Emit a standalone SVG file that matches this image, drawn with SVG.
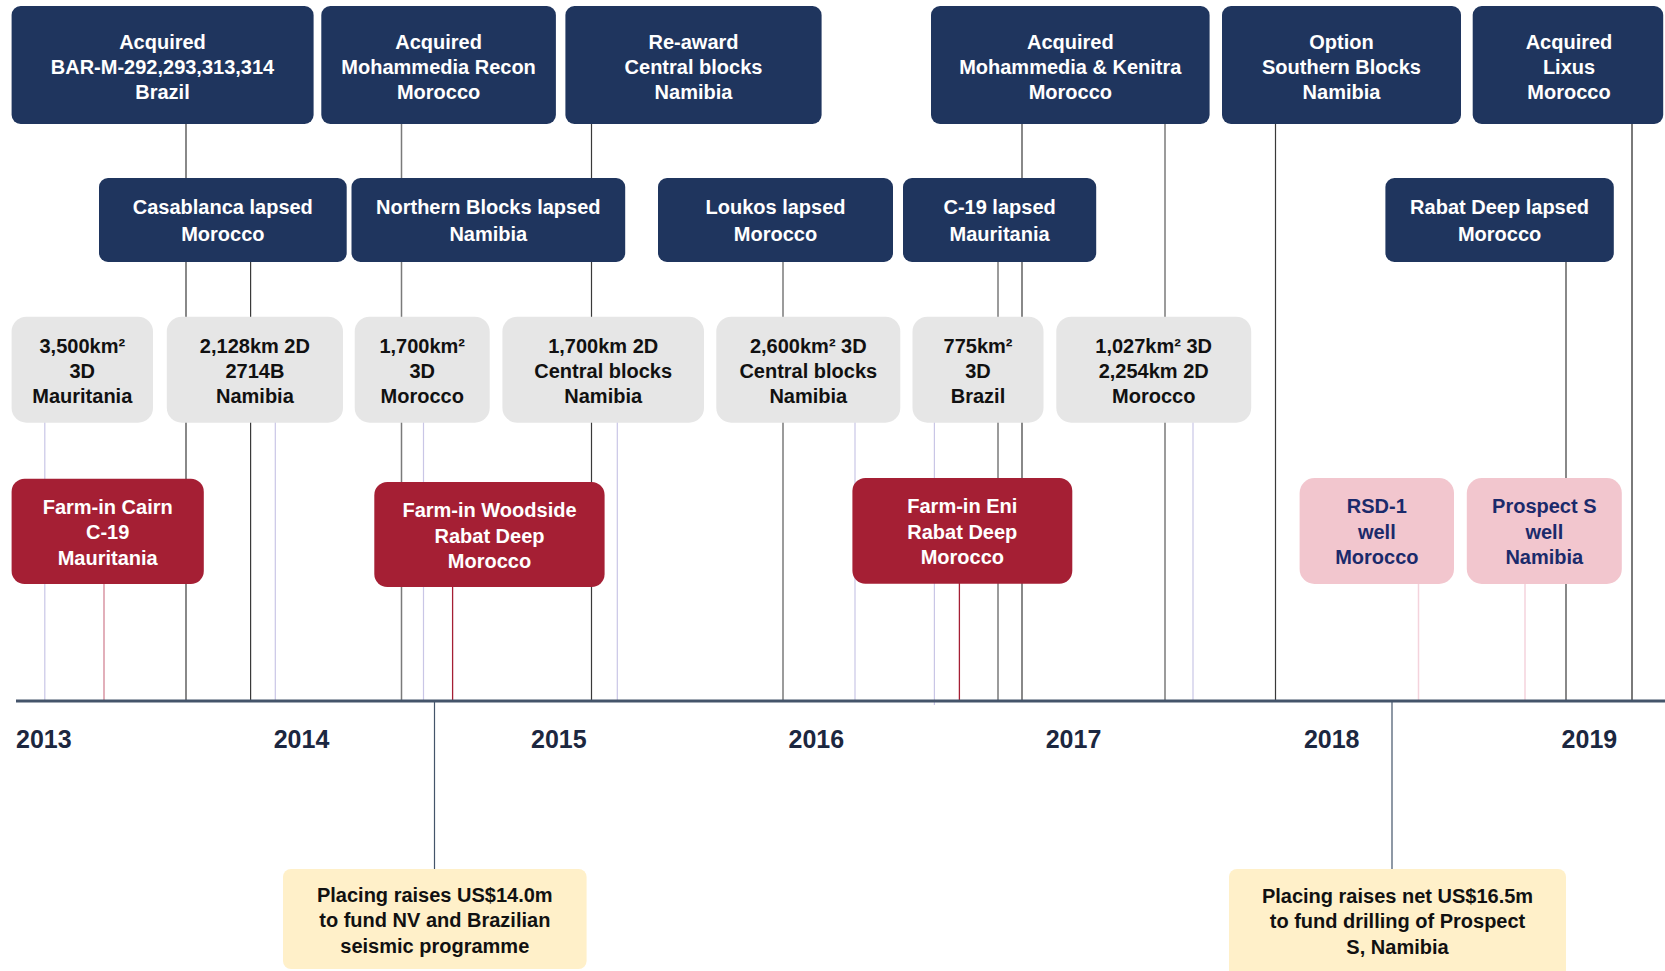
<svg xmlns="http://www.w3.org/2000/svg" width="1665" height="971" viewBox="0 0 1665 971">
<style>
text{font-family:"Liberation Sans",Arial,sans-serif;font-weight:bold;font-size:20px;text-anchor:middle}
.navy{fill:#1f355e}
.gray{fill:#e6e6e6}
.red{fill:#a51f34}
.pink{fill:#f2c6ce}
.yel{fill:#fff0c9}
.tw{fill:#ffffff}
.tb{fill:#111111}
.tp{fill:#1b2a6b}
.yr{font-size:25px;fill:#1c2740;text-anchor:start}
.ld{stroke:#3a3a3a;stroke-width:1.2}
.lg{stroke:#7a7a7a;stroke-width:1.5}
.lv{stroke:#c9c6e6;stroke-width:1.2}
.lr{stroke:#a51f34;stroke-width:1.3}
.lrl{stroke:#cf7b8c;stroke-width:1.2}
.lp{stroke:#f4d3dc;stroke-width:1.5}
.ls{stroke:#44546a;stroke-width:1.2}
</style>
<rect width="1665" height="971" fill="#ffffff"/>
<g id="connectors" fill="none">
<line class="ld" x1="186" y1="124" x2="186" y2="700"/>
<line class="lg" x1="401.5" y1="124" x2="401.5" y2="700"/>
<line class="ld" x1="591.5" y1="124" x2="591.5" y2="700"/>
<line class="ld" x1="1022" y1="124" x2="1022" y2="700"/>
<line class="lg" x1="1165" y1="124" x2="1165" y2="700"/>
<line class="ld" x1="1275.5" y1="124" x2="1275.5" y2="700"/>
<line class="lg" x1="1632" y1="124" x2="1632" y2="700" style="stroke-width:2"/>
<line class="ld" x1="250.6" y1="262" x2="250.6" y2="700"/>
<line class="lg" x1="783" y1="262" x2="783" y2="700"/>
<line class="lg" x1="998" y1="262" x2="998" y2="700"/>
<line class="ld" x1="1566" y1="262" x2="1566" y2="700"/>
<line class="lv" x1="44.8" y1="422" x2="44.8" y2="700"/>
<line class="lv" x1="275.3" y1="422" x2="275.3" y2="700"/>
<line class="lv" x1="423.5" y1="422" x2="423.5" y2="700"/>
<line class="lv" x1="617.3" y1="422" x2="617.3" y2="700"/>
<line class="lv" x1="855" y1="422" x2="855" y2="700"/>
<line class="lv" x1="934.4" y1="422" x2="934.4" y2="705"/>
<line class="lv" x1="1193" y1="422" x2="1193" y2="700"/>
<line class="lrl" x1="104" y1="583" x2="104" y2="700"/>
<line class="lr" x1="452.6" y1="586" x2="452.6" y2="700"/>
<line class="lr" x1="959.4" y1="583" x2="959.4" y2="700"/>
<line class="lp" x1="1418.5" y1="583" x2="1418.5" y2="700"/>
<line class="lp" x1="1525" y1="583" x2="1525" y2="700"/>
<line class="ls" x1="434.5" y1="701" x2="434.5" y2="869"/>
<line class="ls" x1="1392" y1="701" x2="1392" y2="869"/>
<line x1="16" y1="701" x2="1665" y2="701" stroke="#44546a" stroke-width="3"/>
</g>
<g id="n1"><rect class="navy" x="11.6" y="6" width="302" height="118" rx="9"/><text class="tw" x="162.5" y="48.5">Acquired</text><text class="tw" x="162.5" y="73.5">BAR-M-292,293,313,314</text><text class="tw" x="162.5" y="98.5">Brazil</text></g>
<g id="n2"><rect class="navy" x="321.3" y="6" width="234.6" height="118" rx="9"/><text class="tw" x="438.6" y="48.5">Acquired</text><text class="tw" x="438.6" y="73.5">Mohammedia Recon</text><text class="tw" x="438.6" y="98.5">Morocco</text></g>
<g id="n3"><rect class="navy" x="565.4" y="6" width="256.2" height="118" rx="9"/><text class="tw" x="693.5" y="48.5">Re-award</text><text class="tw" x="693.5" y="73.5">Central blocks</text><text class="tw" x="693.5" y="98.5">Namibia</text></g>
<g id="n4"><rect class="navy" x="931" y="6" width="278.6" height="118" rx="9"/><text class="tw" x="1070.3" y="48.5">Acquired</text><text class="tw" x="1070.3" y="73.5">Mohammedia &amp; Kenitra</text><text class="tw" x="1070.3" y="98.5">Morocco</text></g>
<g id="n5"><rect class="navy" x="1222" y="6" width="239" height="118" rx="9"/><text class="tw" x="1341.5" y="48.5">Option</text><text class="tw" x="1341.5" y="73.5">Southern Blocks</text><text class="tw" x="1341.5" y="98.5">Namibia</text></g>
<g id="n6"><rect class="navy" x="1472.7" y="6" width="190.5" height="118" rx="9"/><text class="tw" x="1569" y="48.5">Acquired</text><text class="tw" x="1569" y="73.5">Lixus</text><text class="tw" x="1569" y="98.5">Morocco</text></g>
<g id="n7"><rect class="navy" x="99" y="178" width="247.7" height="84" rx="9"/><text class="tw" x="222.8" y="214">Casablanca lapsed</text><text class="tw" x="222.8" y="240.5">Morocco</text></g>
<g id="n8"><rect class="navy" x="351.5" y="178" width="273.7" height="84" rx="9"/><text class="tw" x="488.3" y="214">Northern Blocks lapsed</text><text class="tw" x="488.3" y="240.5">Namibia</text></g>
<g id="n9"><rect class="navy" x="658" y="178" width="235" height="84" rx="9"/><text class="tw" x="775.5" y="214">Loukos lapsed</text><text class="tw" x="775.5" y="240.5">Morocco</text></g>
<g id="n10"><rect class="navy" x="903" y="178" width="193.2" height="84" rx="9"/><text class="tw" x="999.6" y="214">C-19 lapsed</text><text class="tw" x="999.6" y="240.5">Mauritania</text></g>
<g id="n11"><rect class="navy" x="1385.4" y="178" width="228.4" height="84" rx="9"/><text class="tw" x="1499.6" y="214">Rabat Deep lapsed</text><text class="tw" x="1499.6" y="240.5">Morocco</text></g>
<g id="n12"><rect class="gray" x="11.6" y="316.7" width="141.4" height="106" rx="15"/><text class="tb" x="82.3" y="353">3,500km²</text><text class="tb" x="82.3" y="378">3D</text><text class="tb" x="82.3" y="403">Mauritania</text></g>
<g id="n13"><rect class="gray" x="166.8" y="316.7" width="176.2" height="106" rx="15"/><text class="tb" x="254.9" y="353">2,128km 2D</text><text class="tb" x="254.9" y="378">2714B</text><text class="tb" x="254.9" y="403">Namibia</text></g>
<g id="n14"><rect class="gray" x="354.7" y="316.7" width="135" height="106" rx="15"/><text class="tb" x="422.2" y="353">1,700km²</text><text class="tb" x="422.2" y="378">3D</text><text class="tb" x="422.2" y="403">Morocco</text></g>
<g id="n15"><rect class="gray" x="502.4" y="316.7" width="201.6" height="106" rx="15"/><text class="tb" x="603.2" y="353">1,700km 2D</text><text class="tb" x="603.2" y="378">Central blocks</text><text class="tb" x="603.2" y="403">Namibia</text></g>
<g id="n16"><rect class="gray" x="716.3" y="316.7" width="184" height="106" rx="15"/><text class="tb" x="808.3" y="353">2,600km² 3D</text><text class="tb" x="808.3" y="378">Central blocks</text><text class="tb" x="808.3" y="403">Namibia</text></g>
<g id="n17"><rect class="gray" x="912.5" y="316.7" width="131" height="106" rx="15"/><text class="tb" x="978" y="353">775km²</text><text class="tb" x="978" y="378">3D</text><text class="tb" x="978" y="403">Brazil</text></g>
<g id="n18"><rect class="gray" x="1056.3" y="316.7" width="194.9" height="106" rx="15"/><text class="tb" x="1153.7" y="353">1,027km² 3D</text><text class="tb" x="1153.7" y="378">2,254km 2D</text><text class="tb" x="1153.7" y="403">Morocco</text></g>
<g id="n19"><rect class="red" x="11.6" y="478.7" width="192.2" height="105.3" rx="13"/><text class="tw" x="107.7" y="513.5">Farm-in Cairn</text><text class="tw" x="107.7" y="539">C-19</text><text class="tw" x="107.7" y="564.5">Mauritania</text></g>
<g id="n20"><rect class="red" x="374.3" y="482" width="230.3" height="105" rx="13"/><text class="tw" x="489.5" y="517">Farm-in Woodside</text><text class="tw" x="489.5" y="542.5">Rabat Deep</text><text class="tw" x="489.5" y="568">Morocco</text></g>
<g id="n21"><rect class="red" x="852.4" y="478" width="219.9" height="105.7" rx="13"/><text class="tw" x="962.3" y="513">Farm-in Eni</text><text class="tw" x="962.3" y="538.5">Rabat Deep</text><text class="tw" x="962.3" y="564">Morocco</text></g>
<g id="n22"><rect class="pink" x="1299.6" y="478" width="154.4" height="106" rx="15"/><text class="tp" x="1376.8" y="513">RSD-1</text><text class="tp" x="1376.8" y="538.5">well</text><text class="tp" x="1376.8" y="564">Morocco</text></g>
<g id="n23"><rect class="pink" x="1466.8" y="478" width="155" height="106" rx="15"/><text class="tp" x="1544.3" y="513">Prospect S</text><text class="tp" x="1544.3" y="538.5">well</text><text class="tp" x="1544.3" y="564">Namibia</text></g>
<g id="n24"><rect class="yel" x="283" y="869" width="303.6" height="100" rx="8"/><text class="tb" x="434.8" y="901.5">Placing raises US$14.0m</text><text class="tb" x="434.8" y="927">to fund NV and Brazilian</text><text class="tb" x="434.8" y="952.5">seismic programme</text></g>
<g id="n25"><rect class="yel" x="1229" y="869" width="337" height="110" rx="8"/><text class="tb" x="1397.5" y="902.5">Placing raises net US$16.5m</text><text class="tb" x="1397.5" y="928">to fund drilling of Prospect</text><text class="tb" x="1397.5" y="953.5">S, Namibia</text></g>
<g id="years">
<text class="yr" x="16" y="748">2013</text>
<text class="yr" x="273.7" y="748">2014</text>
<text class="yr" x="531" y="748">2015</text>
<text class="yr" x="788.5" y="748">2016</text>
<text class="yr" x="1045.7" y="748">2017</text>
<text class="yr" x="1303.9" y="748">2018</text>
<text class="yr" x="1561.6" y="748">2019</text>
</g>
</svg>
